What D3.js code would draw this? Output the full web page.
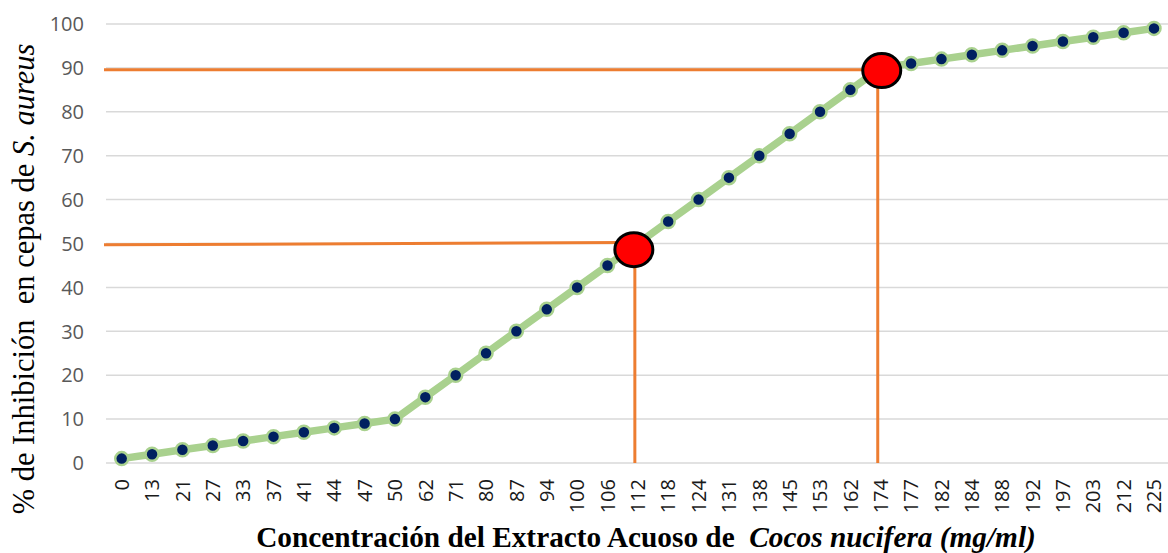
<!DOCTYPE html>
<html>
<head>
<meta charset="utf-8">
<script src="https://cdn.jsdelivr.net/npm/d3@7"></script>
<style>
  body { margin: 0; background: #fff; }
  svg { display: block; }
  text { white-space: pre; }
</style>
</head>
<body>
<div id="chart"></div>
<script>
(() => {
  const width = 1168, height = 553;

  // Concentration categories (mg/ml) and % inhibition
  const concentrations = ["0","13","21","27","33","37","41","44","47","50","62","71","80","87","94","100","106","112","118","124","131","138","145","153","162","174","177","182","184","188","192","197","203","212","225"];
  const inhibition = [1,2,3,4,5,6,7,8,9,10,15,20,25,30,35,40,45,50,55,60,65,70,75,80,85,90,91,92,93,94,95,96,97,98,99];
  const yTicks = [0,10,20,30,40,50,60,70,80,90,100];

  // Highlighted points (IC50 / IC90) with guide lines
  const markCats = ["112", "174"];
  const markValues = [48.6, 89.4];
  const guideStart = [49.7, 89.6];   // y value at left edge
  const guideEnd = [50.2, 89.6];     // y value near the marker

  const svg = d3.select("#chart").append("svg")
    .attr("width", width)
    .attr("height", height);

  const x = d3.scalePoint()
    .domain(concentrations)
    .range([121.7, 1154]);

  const y = d3.scaleLinear()
    .domain([0, 100])
    .range([463, 24]);

  const plotLeft = 106, plotRight = 1168;
  const markShift = [-4, 1], guideShift = [-3, -3];

  // gridlines
  svg.append("g")
    .selectAll("line")
    .data(yTicks)
    .join("line")
    .attr("x1", plotLeft)
    .attr("x2", plotRight)
    .attr("y1", d => y(d))
    .attr("y2", d => y(d))
    .attr("stroke", "#d9d9d9")
    .attr("stroke-width", 1.5);

  // y tick labels
  svg.append("g")
    .selectAll("text")
    .data(yTicks)
    .join("text")
    .attr("x", 84)
    .attr("y", d => y(d))
    .attr("dy", "0.36em")
    .attr("text-anchor", "end")
    .attr("font-family", "'Open Sans', sans-serif")
    .attr("font-size", 20)
    .attr("fill", "#595959")
    .text(d => d);

  // x tick labels (rotated)
  svg.append("g")
    .selectAll("text")
    .data(concentrations)
    .join("text")
    .attr("transform", d => `translate(${x(d)},479) rotate(-90)`)
    .attr("dy", "0.36em")
    .attr("text-anchor", "end")
    .attr("font-family", "'Open Sans', sans-serif")
    .attr("font-size", 20)
    .attr("fill", "#1a1a1a")
    .text(d => d);

  // orange guide lines
  const guides = svg.append("g")
    .attr("stroke", "#ed7d31")
    .attr("stroke-width", 3);

  markCats.forEach((c, i) => {
    guides.append("line")
      .attr("x1", 104)
      .attr("x2", x(c) + markShift[i] - 10)
      .attr("y1", y(guideStart[i]))
      .attr("y2", y(guideEnd[i]));
    guides.append("line")
      .attr("x1", x(c) + guideShift[i])
      .attr("x2", x(c) + guideShift[i])
      .attr("y1", y(markValues[i]))
      .attr("y2", y(0));
  });

  // data line
  const line = d3.line()
    .x((_, i) => x(concentrations[i]))
    .y(d => y(d));

  svg.append("path")
    .datum(inhibition)
    .attr("fill", "none")
    .attr("stroke", "#a9d18e")
    .attr("stroke-width", 7.5)
    .attr("stroke-linejoin", "round")
    .attr("d", line);

  svg.append("g")
    .selectAll("circle")
    .data(inhibition)
    .join("circle")
    .attr("cx", (_, i) => x(concentrations[i]))
    .attr("cy", d => y(d))
    .attr("r", 6.5)
    .attr("fill", "#002060")
    .attr("stroke", "#a9d18e")
    .attr("stroke-width", 2.5);

  // red markers
  svg.append("g")
    .selectAll("ellipse")
    .data(markCats)
    .join("ellipse")
    .attr("cx", (c, i) => x(c) + markShift[i])
    .attr("cy", (_, i) => y(markValues[i]))
    .attr("rx", 19)
    .attr("ry", 17)
    .attr("fill", "#ff0000")
    .attr("stroke", "#000")
    .attr("stroke-width", 3);

  // x axis title
  const xt = svg.append("text")
    .attr("x", 646)
    .attr("y", 547)
    .attr("text-anchor", "middle")
    .attr("font-family", "'Liberation Serif', 'Times New Roman', serif")
    .attr("font-size", 29.3)
    .attr("font-weight", "bold")
    .attr("fill", "#000");
  xt.append("tspan").text("Concentración del Extracto Acuoso de  ");
  xt.append("tspan").attr("font-style", "italic").text("Cocos nucifera (mg/ml)");

  // y axis title
  const yt = svg.append("text")
    .attr("transform", "translate(34,279) rotate(-90)")
    .attr("text-anchor", "middle")
    .attr("font-family", "'Liberation Serif', 'Times New Roman', serif")
    .attr("font-size", 30.5)
    .attr("fill", "#000");
  yt.append("tspan").text("% de Inhibición  en cepas de ");
  yt.append("tspan").attr("font-style", "italic").text("S. aureus");
})();
</script>
</body>
</html>
